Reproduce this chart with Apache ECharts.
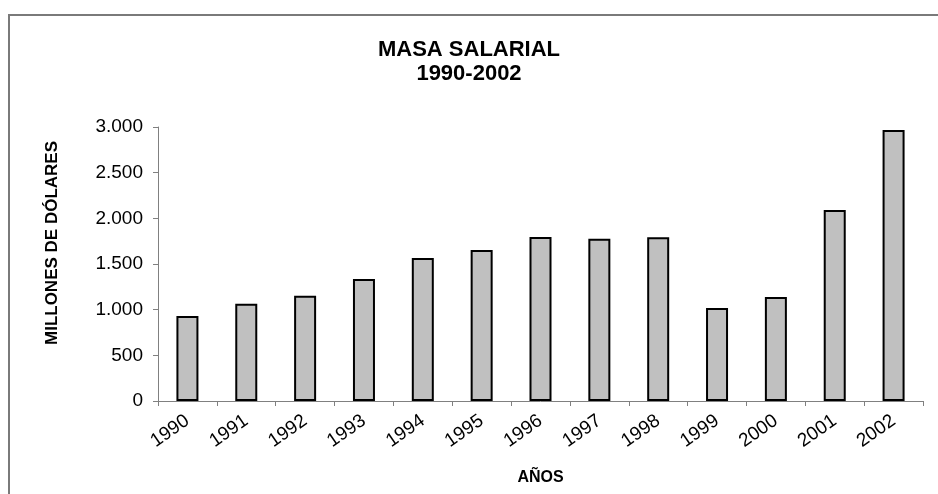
<!DOCTYPE html>
<html>
<head>
<meta charset="utf-8">
<script src="https://cdn.jsdelivr.net/npm/echarts@6/dist/echarts.min.js"></script>
<style>
  html, body { margin: 0; padding: 0; background: #fff; }
</style>
</head>
<body>
<div id="myChart" style="width:938px;height:494px;"></div>
<script>
  // datos (millones de dolares)
  const years = ['1990', '1991', '1992', '1993', '1994', '1995', '1996',
                 '1997', '1998', '1999', '2000', '2001', '2002'];
  const masaSalarial = [932, 1065, 1153, 1336, 1566, 1653, 1796,
                        1777, 1792, 1018, 1139, 2091, 2967];

  const chart = echarts.init(document.getElementById('myChart'));

  const fmtMiles = function (v) {
    return String(v).replace(/\B(?=(\d{3})+(?!\d))/g, '.');
  };

  let option = {
    backgroundColor: '#fff',
    animation: false,
    title: {
      text: 'MASA SALARIAL\n1990-2002',
      left: 'center',
      top: 33,
      textStyle: {
        fontFamily: 'Liberation Sans, Arial, sans-serif',
        fontWeight: 'bold',
        fontSize: 22,
        lineHeight: 24,
        color: '#000'
      }
    },
    graphic: [
      {
        type: 'rect',
        shape: { x: 9, y: 15, width: 1000, height: 600 },
        style: { fill: null, stroke: '#7a7a7a', lineWidth: 2 },
        silent: true
      },
      {
        type: 'text',
        x: 52,
        y: 243,
        rotation: Math.PI / 2,
        style: {
          text: 'MILLONES DE DÓLARES',
          font: 'bold 17px "Liberation Sans", Arial, sans-serif',
          fill: '#000',
          align: 'center',
          verticalAlign: 'middle'
        }
      }
    ],
    grid: {
      left: 158,
      right: 15,
      top: 127,
      bottom: 93
    },
    xAxis: {
      type: 'category',
      data: years,
      name: 'AÑOS',
      nameLocation: 'middle',
      nameGap: 69,
      nameTextStyle: {
        fontFamily: 'Liberation Sans, Arial, sans-serif',
        fontWeight: 'bold',
        fontSize: 16,
        color: '#000'
      },
      axisLine: { lineStyle: { color: '#808080', width: 1 } },
      axisTick: { show: true, length: 5, lineStyle: { color: '#808080' } },
      axisLabel: {
        rotate: 35,
        margin: 18,
        fontFamily: 'Liberation Sans, Arial, sans-serif',
        fontSize: 19,
        color: '#000'
      }
    },
    yAxis: {
      type: 'value',
      min: 0,
      max: 3000,
      interval: 500,
      axisLine: { show: true, lineStyle: { color: '#808080', width: 1 } },
      axisTick: { show: true, length: 5, lineStyle: { color: '#808080' } },
      splitLine: { show: false },
      axisLabel: {
        margin: 15,
        fontFamily: 'Liberation Sans, Arial, sans-serif',
        fontSize: 19,
        color: '#000',
        formatter: fmtMiles
      }
    },
    series: [
      {
        name: 'Masa salarial',
        type: 'bar',
        data: masaSalarial,
        barWidth: 22,
        itemStyle: {
          color: '#c0c0c0',
          borderColor: '#000',
          borderWidth: 2
        }
      }
    ]
  };

  chart.setOption(option);
</script>
</body>
</html>
